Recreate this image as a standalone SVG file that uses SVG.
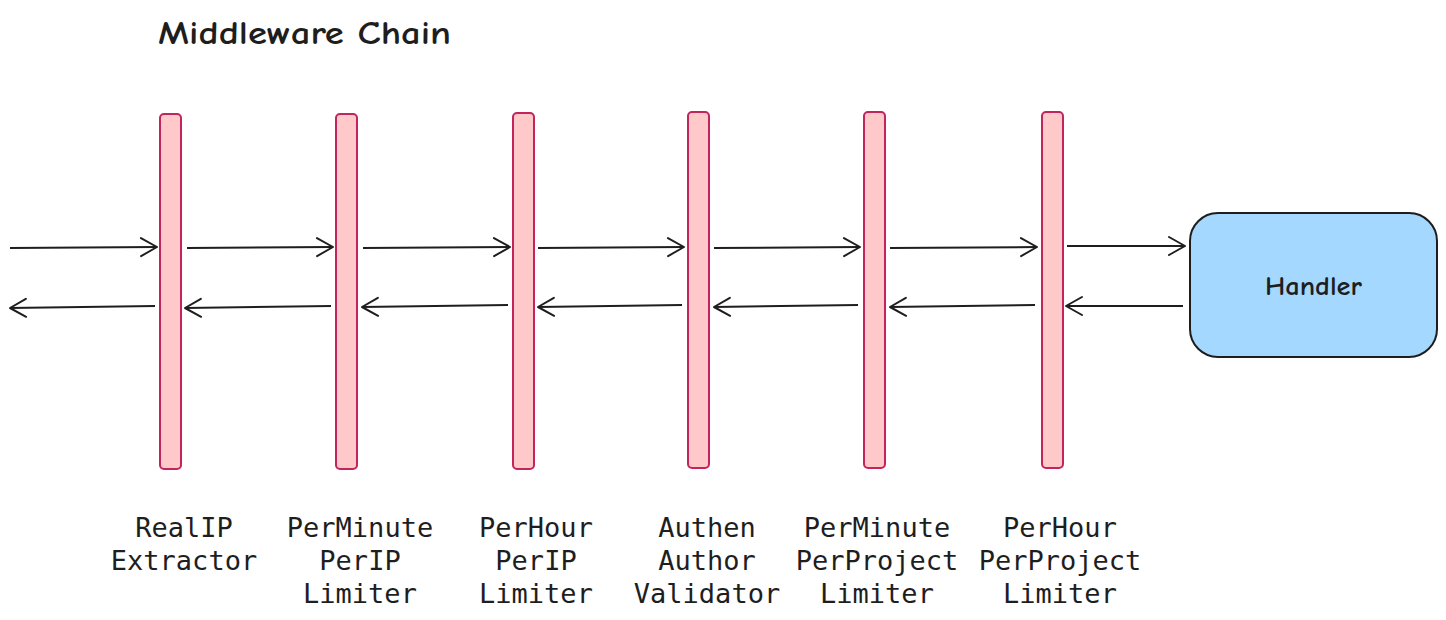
<svg xmlns="http://www.w3.org/2000/svg" width="1446" height="620" viewBox="0 0 1446 620">
<style>
.bar{fill:#ffc9c9;stroke:#c2255c;stroke-width:2}
.conn{stroke:#1e1e1e;stroke-width:2;fill:none;marker-end:url(#ah)}
.lbl{font-family:"DejaVu Sans Mono","Liberation Mono",monospace;font-size:27px;fill:#1e1e1e;text-anchor:middle}
.hand{font-family:"Comic Neue","Noto Sans","Liberation Sans",sans-serif;fill:#1e1e1e;font-weight:bold}
</style>
<defs>
<marker id="ah" markerUnits="userSpaceOnUse" markerWidth="24" markerHeight="24" viewBox="-20 -12 24 24" refX="0" refY="0" orient="auto">
<path d="M -16 -9 L 0 0 L -16 9" fill="none" stroke="#1e1e1e" stroke-width="2" stroke-linecap="round" stroke-linejoin="round"/>
</marker>
</defs>
<rect width="1446" height="620" fill="#ffffff"/>
<text class="hand" x="158" y="44" font-size="33" textLength="293" lengthAdjust="spacingAndGlyphs">Middleware Chain</text>
<g id="n-realip"><rect class="bar" x="160" y="114" width="21" height="355" rx="4"/><text class="lbl" x="184" y="537">RealIP<tspan x="184" dy="33">Extractor</tspan></text></g>
<g id="n-perminute-ip"><rect class="bar" x="336" y="114" width="21" height="355" rx="4"/><text class="lbl" x="360" y="537">PerMinute<tspan x="360" dy="33">PerIP</tspan><tspan x="360" dy="33">Limiter</tspan></text></g>
<g id="n-perhour-ip"><rect class="bar" x="513" y="113" width="21" height="356" rx="4"/><text class="lbl" x="536" y="537">PerHour<tspan x="536" dy="33">PerIP</tspan><tspan x="536" dy="33">Limiter</tspan></text></g>
<g id="n-auth"><rect class="bar" x="688" y="112" width="21" height="356" rx="4"/><text class="lbl" x="707" y="537">Authen<tspan x="707" dy="33">Author</tspan><tspan x="707" dy="33">Validator</tspan></text></g>
<g id="n-perminute-proj"><rect class="bar" x="864" y="112" width="21" height="356" rx="4"/><text class="lbl" x="877" y="537">PerMinute<tspan x="877" dy="33">PerProject</tspan><tspan x="877" dy="33">Limiter</tspan></text></g>
<g id="n-perhour-proj"><rect class="bar" x="1042" y="112" width="21" height="356" rx="4"/><text class="lbl" x="1060" y="537">PerHour<tspan x="1060" dy="33">PerProject</tspan><tspan x="1060" dy="33">Limiter</tspan></text></g>
<g id="n-handler"><rect x="1190" y="213" width="247" height="144" rx="28" fill="#a5d8ff" stroke="#1e1e1e" stroke-width="2"/><text class="hand" x="1265" y="295" font-size="27" textLength="97" lengthAdjust="spacingAndGlyphs">Handler</text></g>
<g id="connectors">
<path class="conn" d="M10 248 L157 247"/>
<path class="conn" d="M187 248 L333 247"/>
<path class="conn" d="M363 248 L510 247"/>
<path class="conn" d="M538 248 L684 247"/>
<path class="conn" d="M714 248 L860 247"/>
<path class="conn" d="M890 248 L1037 247"/>
<path class="conn" d="M1067 246 L1185 246"/>
<path class="conn" d="M155 306 L10 308"/>
<path class="conn" d="M331 306 L185 308"/>
<path class="conn" d="M508 305 L362 307"/>
<path class="conn" d="M682 305 L538 307"/>
<path class="conn" d="M858 305 L714 307"/>
<path class="conn" d="M1035 305 L890 307"/>
<path class="conn" d="M1183 306 L1066 306"/>
</g>
</svg>
